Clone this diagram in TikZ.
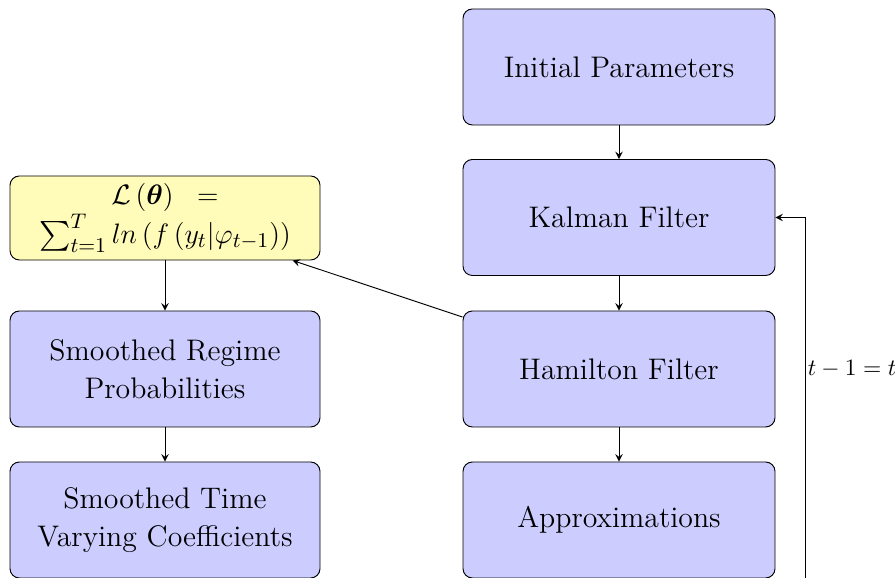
\documentclass[tikz,border=0pt]{standalone}
\usepackage{amsmath}
\usepackage{amssymb}
\usepackage{tikz}
\usetikzlibrary{arrows,arrows.meta,shapes,positioning,calc}

\tikzset{
    stepbox/.style={draw, rounded corners, fill=blue!20, align=center, font=\fontsize{12.7}{16}\selectfont,
        minimum width=4.68cm, minimum height=1.74cm},
    likbox/.style={draw, rounded corners, fill=yellow!28, align=center, font=\fontsize{12.7}{14.5}\selectfont,
        minimum width=4.65cm, minimum height=1.26cm, inner sep=1pt},
    flow/.style={->, >=stealth}
}

\begin{document}
\begin{tikzpicture}

                % Frame of the picture
                \useasboundingbox (0,0) rectangle (13.425,-8.67);

                % Right column
                \node[stepbox] (init) at (9.285,-1.005) {Initial Parameters};
                \node[stepbox] (kalman) at (9.285,-3.2625) {Kalman Filter};
                \node[stepbox] (hamilton) at (9.285,-5.535) {Hamilton Filter};
                \node[stepbox] (approx) at (9.285,-7.8) {Approximations};

                % Left column
                \node[likbox] (loglik) at (2.475,-3.27)
                    {$\mathcal{L}\left(\boldsymbol{\theta}\right)\;\;=$\\
                     $\sum_{t=1}^{T} ln\left(f\left(y_t|\varphi_{t-1}\right)\right)$};
                \node[stepbox, minimum width=4.65cm] (regime) at (2.475,-5.535) {Smoothed Regime\\Probabilities};
                \node[stepbox, minimum width=4.65cm] (coeff) at (2.475,-7.8) {Smoothed Time\\Varying Coefficients};

                % Arrows
                \draw[flow] (init) -- (kalman);
                \draw[flow] (kalman) -- (hamilton);
                \draw[flow] (hamilton) -- (approx);
                \draw[flow] (hamilton) -- (loglik);
                \draw[flow] (loglik) -- (regime);
                \draw[flow] (regime) -- (coeff);

                % Loop back to the Kalman filter
                \coordinate (back) at (12.075,-8.67);
                \draw[flow] (back) |- node[pos=0.29, right, inner sep=1pt] {$t-1=t$} (kalman.east);
            \end{tikzpicture}
\end{document}
